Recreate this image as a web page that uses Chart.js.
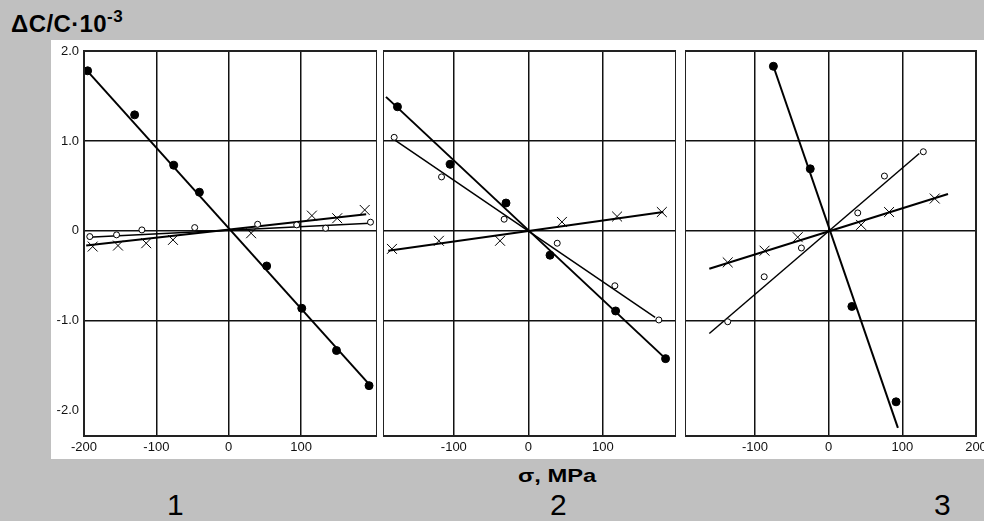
<!DOCTYPE html>
<html>
<head>
<meta charset="utf-8">
<script src="https://cdn.jsdelivr.net/npm/chart.js@4.4.1/dist/chart.umd.min.js"></script>
<style>
  html, body { margin: 0; padding: 0; }
  body { width: 984px; height: 521px; background: #c0c0c0; position: relative; overflow: hidden; font-family: "Liberation Sans", Arial, sans-serif; }
  #sheet { position: absolute; left: 51px; top: 40px; width: 933px; height: 419px; background: #fff; }
  canvas { position: absolute; top: 40px; }
  .lbl { position: absolute; color: #000; white-space: nowrap; }
  #ytitle { left: 11px; top: 12px; font-weight: bold; font-size: 24px; line-height: 24px; letter-spacing: 0.4px; }
  #ytitle sup { font-size: 17px; position: relative; top: -4px; vertical-align: top; line-height: 17px; }
  #xtitle { left: 518px; top: 466px; font-weight: bold; font-size: 19px; line-height: 19px; transform: scaleX(1.25); transform-origin: left center; }
  .num { top: 490px; font-size: 30px; line-height: 30px; }
</style>
</head>
<body>
<div id="sheet"></div>
<canvas id="p1" width="326" height="419" style="left:51px"></canvas>
<canvas id="p2" width="293" height="419" style="left:383px"></canvas>
<canvas id="p3" width="299" height="419" style="left:685px"></canvas>
<div class="lbl" id="ytitle">ΔC/C·10<sup>-3</sup></div>
<div class="lbl" id="xtitle">σ, MPa</div>
<div class="lbl num" style="left:167px">1</div>
<div class="lbl num" style="left:550px">2</div>
<div class="lbl num" style="left:934px">3</div>
<script>
const Y_TICKS = [-2, -1, 0, 1, 2];
const X_TICKS_1 = [-200, -100, 0, 100];
const X_TICKS_2 = [-100, 0, 100];
const X_TICKS_3 = [-100, 0, 100, 200];

// panel 1
const p1Filled = [[-195, 1.78], [-130, 1.29], [-76, 0.73], [-40.5, 0.43], [52.5, -0.39], [101, -0.86], [149, -1.33], [194, -1.72]];
const p1FilledFit = [[-199, 1.81], [198, -1.74]];
const p1Open = [[-192, -0.063], [-155, -0.044], [-120, 0.011], [-47, 0.037], [40, 0.074], [94, 0.067], [134, 0.03], [196, 0.097]];
const p1OpenFit = [[-194, -0.07], [195, 0.086]];
const p1Cross = [[-188, -0.174], [-153, -0.163], [-114, -0.137], [-77, -0.1], [31, -0.026], [115, 0.17], [150, 0.141], [188, 0.233]];
const p1CrossFit = [[-197, -0.163], [190, 0.186]];

// panel 2
const p2Filled = [[-175.6, 1.38], [-105, 0.74], [-30, 0.31], [29, -0.27], [117, -0.89], [184, -1.42]];
const p2FilledFit = [[-191, 1.49], [184, -1.42]];
const p2Open = [[-180, 1.04], [-116.5, 0.6], [-32.5, 0.13], [38.7, -0.137], [116, -0.61], [175, -0.99]];
const p2OpenFit = [[-179, 1.01], [170, -0.96]];
const p2Cross = [[-183, -0.2], [-120, -0.11], [-38, -0.11], [45, 0.1], [119, 0.16], [179, 0.21]];
const p2CrossFit = [[-188, -0.22], [181, 0.21]];

// panel 3
const p3Filled = [[-75, 1.83], [-25, 0.69], [31.5, -0.84], [91.5, -1.9]];
const p3FilledFit = [[-75, 1.83], [94, -2.19]];
const p3Open = [[-137, -1.01], [-87.5, -0.51], [-37, -0.19], [39.5, 0.2], [75.7, 0.61], [128.5, 0.88]];
const p3OpenFit = [[-162, -1.14], [123, 0.86]];
const p3Cross = [[-137, -0.35], [-87, -0.22], [-42, -0.07], [44, 0.067], [82, 0.21], [144, 0.36]];
const p3CrossFit = [[-162, -0.42], [162, 0.41]];

const toXY = arr => arr.map(([x, y]) => ({ x, y }));
const TICK_FONT = { family: "'Liberation Sans', Arial, sans-serif", size: 13 };

const frame = {
    id: 'frame',
    afterDraw(chart) {
        const a = chart.chartArea, c = chart.ctx;
        c.save();
        c.strokeStyle = '#222';
        c.lineWidth = 2;
        c.strokeRect(a.left, a.top, a.right - a.left, a.bottom - a.top);
        c.restore();
    }
};

function makePanel(id, xMin, xMax, xTicks, showY, padRight, s) {
    const pts = (data, style) => Object.assign({ data: toXY(data), showLine: false, borderColor: '#000' }, style);
    const fit = (data, w) => ({ data: toXY(data), showLine: true, pointRadius: 0, borderColor: '#000', borderWidth: w });
    return new Chart(document.getElementById(id), {
        type: 'scatter',
        data: {
            datasets: [
                pts(s.filled, { pointStyle: 'circle', pointRadius: 4, pointBackgroundColor: '#000', pointBorderWidth: 1 }),
                pts(s.open, { pointStyle: 'circle', pointRadius: 3, pointBackgroundColor: '#fff', pointBorderWidth: 1 }),
                pts(s.cross, { pointStyle: 'crossRot', pointRadius: 7, pointBorderWidth: 1 }),
                fit(s.filledFit, 2),
                fit(s.openFit, 1.5),
                fit(s.crossFit, 2)
            ]
        },
        options: {
            responsive: false,
            animation: false,
            devicePixelRatio: 1,
            layout: { autoPadding: false, padding: { top: 11, right: padRight, left: 0, bottom: 0 } },
            plugins: { legend: { display: false }, tooltip: { enabled: false } },
            scales: {
                x: {
                    type: 'linear', min: xMin, max: xMax,
                    afterBuildTicks: sc => { sc.ticks = xTicks.map(v => ({ value: v })); },
                    afterFit: sc => { sc.height = 23; sc.paddingLeft = 0; sc.paddingRight = 0; },
                    border: { display: false },
                    grid: {
                        drawTicks: false, lineWidth: 1.5,
                        color: c => (c.tick && (c.tick.value <= xMin || c.tick.value >= xMax)) ? 'rgba(0,0,0,0)' : '#111'
                    },
                    ticks: { padding: 4, color: '#111', font: TICK_FONT, maxRotation: 0, autoSkip: false, callback: v => String(v) }
                },
                y: {
                    type: 'linear', min: -2.28, max: 2.0,
                    afterBuildTicks: sc => { sc.ticks = Y_TICKS.map(v => ({ value: v })); },
                    afterFit: sc => { sc.width = showY ? 33 : 0; sc.paddingTop = 0; sc.paddingBottom = 0; },
                    border: { display: false },
                    grid: {
                        drawTicks: false, lineWidth: 1.5,
                        color: c => (c.tick && Math.abs(c.tick.value) === 2) ? 'rgba(0,0,0,0)' : '#111'
                    },
                    ticks: {
                        display: showY, padding: 5, color: '#111', font: TICK_FONT, autoSkip: false,
                        callback: v => v === 0 ? '0' : v.toFixed(1)
                    }
                }
            }
        },
        plugins: [frame]
    });
}

makePanel('p1', -200, 205, X_TICKS_1, true, 0, {
    filled: p1Filled, filledFit: p1FilledFit, open: p1Open, openFit: p1OpenFit, cross: p1Cross, crossFit: p1CrossFit
});
makePanel('p2', -195, 198, X_TICKS_2, false, 0, {
    filled: p2Filled, filledFit: p2FilledFit, open: p2Open, openFit: p2OpenFit, cross: p2Cross, crossFit: p2CrossFit
});
makePanel('p3', -195, 200, X_TICKS_3, false, 8, {
    filled: p3Filled, filledFit: p3FilledFit, open: p3Open, openFit: p3OpenFit, cross: p3Cross, crossFit: p3CrossFit
});
</script>
</body>
</html>
